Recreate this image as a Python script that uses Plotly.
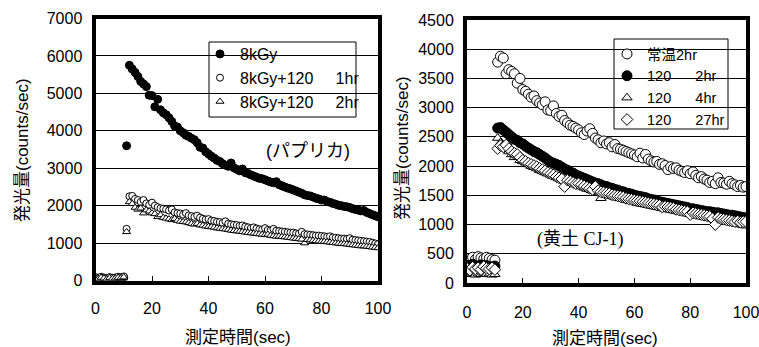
import plotly.graph_objects as go

# ---------------- data ----------------
t_sec = list(range(0, 101))

# left panel (パプリカ)
y_8kGy = [40, 60, 30, 50, 45, 70, 55, 40, 65, 50, 80,
          3600, 5750, 5650, 5560, 5450, 5320, 5250, 5180, 4950, 4940,
          4640, 4840, 4560, 4480, 4430, 4350, 4250, 4130, 4100, 4000,
          3950, 3880, 3850, 3800, 3760, 3680, 3560, 3540, 3440, 3380,
          3320, 3270, 3210, 3180, 3120, 3080, 3050, 3140, 3010, 2970,
          2930, 2980, 2880, 2860, 2820, 2790, 2760, 2730, 2720, 2690,
          2660, 2630, 2610, 2640, 2560, 2530, 2500, 2470, 2450, 2420,
          2390, 2360, 2330, 2290, 2270, 2260, 2230, 2200, 2180, 2150,
          2150, 2110, 2090, 2060, 2040, 2010, 2000, 1980, 1970, 1950,
          1920, 1900, 1880, 1860, 1870, 1820, 1790, 1760, 1730, 1700]
y_8kGy_1hr = [90, 70, 100, 80, 60, 90, 70, 80, 100, 90, 110,
              1380, 2250, 2260, 2180, 2150, 2100, 2150, 2060, 2020, 2080,
              2000, 1960, 1930, 1920, 1900, 1870, 1900, 1820, 1800, 1790,
              1760, 1800, 1740, 1720, 1700, 1730, 1680, 1650, 1630, 1640,
              1600, 1590, 1570, 1560, 1540, 1580, 1520, 1500, 1490, 1480,
              1460, 1470, 1440, 1420, 1400, 1420, 1390, 1370, 1360, 1400,
              1350, 1340, 1380, 1330, 1320, 1310, 1300, 1290, 1280, 1280,
              1260, 1250, 1300, 1240, 1230, 1220, 1210, 1200, 1200, 1190,
              1180, 1170, 1180, 1150, 1140, 1130, 1120, 1120, 1110, 1130,
              1090, 1080, 1070, 1060, 1050, 1040, 1030, 1010, 990, 970]
y_8kGy_2hr = [70, 50, 80, 60, 40, 70, 50, 60, 80, 70, 90,
              1300, 2100, 2050, 1950, 1900, 1930, 1800, 1880, 1850, 1800,
              1780, 1700, 1750, 1680, 1660, 1640, 1620, 1650, 1600, 1580,
              1570, 1560, 1540, 1520, 1500, 1520, 1480, 1470, 1450, 1440,
              1430, 1420, 1400, 1390, 1380, 1370, 1360, 1340, 1330, 1320,
              1310, 1300, 1290, 1280, 1270, 1260, 1250, 1240, 1230, 1220,
              1230, 1200, 1190, 1180, 1180, 1170, 1160, 1150, 1140, 1130,
              1120, 1110, 1100, 1000, 1090, 1080, 1070, 1060, 1050, 1040,
              1040, 1030, 1020, 1010, 1000, 990, 980, 980, 970, 960,
              950, 940, 930, 920, 920, 910, 900, 890, 880, 870]

# right panel (黄土 CJ-1)
y_room_2hr = [380, 420, 440, 400, 450, 430, 410, 440, 420, 400, 390,
              3780, 3880, 3850, 3580, 3650, 3620, 3580, 3420, 3500, 3310,
              3280, 3230, 3180, 3200, 3120, 3080, 3050, 3100, 2960, 2950,
              3030, 2900, 2850, 2870, 2780, 2740, 2700, 2680, 2650, 2620,
              2570, 2540, 2600, 2640, 2560, 2480, 2450, 2400, 2430, 2380,
              2400, 2330, 2370, 2300, 2290, 2270, 2250, 2230, 2210, 2190,
              2160, 2220, 2140, 2200, 2120, 2090, 2070, 2080, 2030, 2040,
              2010, 1940, 1990, 1960, 1970, 1930, 1910, 1890, 1920, 1870,
              1900, 1840, 1800, 1820, 1780, 1760, 1720, 1740, 1700, 1800,
              1720, 1710, 1690, 1740, 1700, 1680, 1650, 1670, 1640, 1650]
y_120_2hr = [300, 270, 320, 280, 290, 310, 260, 300, 280, 270, 290,
             2650, 2660, 2620, 2580, 2540, 2500, 2460, 2440, 2400, 2380,
             2340, 2310, 2280, 2250, 2230, 2200, 2170, 2140, 2100, 2070,
             2050, 2030, 2010, 1980, 1950, 1930, 1900, 1880, 1850, 1830,
             1810, 1790, 1770, 1750, 1730, 1710, 1700, 1680, 1660, 1650,
             1630, 1620, 1600, 1590, 1570, 1560, 1540, 1530, 1520, 1500,
             1490, 1480, 1470, 1460, 1440, 1430, 1420, 1410, 1390, 1380,
             1370, 1360, 1350, 1340, 1330, 1320, 1310, 1300, 1290, 1270,
             1270, 1260, 1250, 1240, 1230, 1220, 1220, 1210, 1200, 1200,
             1190, 1180, 1170, 1160, 1160, 1150, 1140, 1130, 1120, 1110]
y_120_4hr = [160, 150, 170, 140, 160, 150, 170, 150, 160, 140, 150,
             2480, 2400, 2360, 2300, 2250, 2200, 2150, 2180, 2100, 2080,
             2060, 2030, 2000, 1980, 1960, 1930, 1910, 1890, 1870, 1850,
             1830, 1810, 1790, 1770, 1750, 1730, 1720, 1700, 1690, 1670,
             1650, 1630, 1610, 1600, 1580, 1570, 1550, 1450, 1530, 1510,
             1500, 1490, 1470, 1460, 1450, 1440, 1420, 1410, 1400, 1390,
             1370, 1360, 1350, 1340, 1330, 1320, 1310, 1300, 1290, 1280,
             1270, 1260, 1250, 1240, 1230, 1220, 1210, 1200, 1190, 1180,
             1170, 1160, 1150, 1140, 1130, 1120, 1110, 1100, 1090, 1080,
             1070, 1060, 1050, 1040, 1030, 1020, 1010, 1000, 990, 980]
y_120_27hr = [250, 220, 270, 240, 260, 230, 280, 250, 240, 260, 230,
              2300, 2350, 2330, 2360, 2300, 2250, 2220, 2200, 2150, 2100,
              2080, 2050, 2030, 2010, 1990, 1960, 1940, 1920, 1890, 1870,
              1850, 1820, 1800, 1780, 1650, 1760, 1740, 1720, 1700, 1700,
              1680, 1660, 1640, 1620, 1600, 1650, 1580, 1560, 1550, 1540,
              1530, 1510, 1500, 1490, 1480, 1470, 1450, 1440, 1430, 1420,
              1410, 1400, 1390, 1380, 1370, 1360, 1350, 1340, 1330, 1300,
              1310, 1300, 1290, 1280, 1260, 1250, 1240, 1230, 1220, 1170,
              1200, 1190, 1180, 1170, 1160, 1150, 1140, 1100, 1000, 1120,
              1100, 1090, 1080, 1070, 1060, 1050, 1060, 1040, 1050, 1050]

x_ticks = [0, 20, 40, 60, 80, 100]

# ---------------- figure ----------------
FONT = "Liberation Sans, Arial, Noto Sans CJK JP, sans-serif"
SERIF = "Liberation Serif, Times New Roman, Noto Sans CJK JP, serif"
W, H = 759, 347
nb = "\u00a0"

fig = go.Figure()

left_series = [
    ("8kGy", y_8kGy, "circle", "black", 8),
    ("8kGy+120" + nb * 5 + "1hr", y_8kGy_1hr, "circle", "white", 7),
    ("8kGy+120" + nb * 5 + "2hr", y_8kGy_2hr, "triangle-up", "white", 7),
]
for name, ys, sym, fill, sz in left_series:
    fig.add_trace(go.Scatter(
        x=t_sec, y=ys, mode="markers", name=name, xaxis="x", yaxis="y",
        legend="legend",
        marker=dict(symbol=sym, size=sz, color=fill,
                    line=dict(color="black", width=1)),
    ))

right_series = [
    ("常温2hr", y_room_2hr, "circle", "white", 10),
    ("120" + nb * 6 + "2hr", y_120_2hr, "circle", "black", 10),
    ("120" + nb * 6 + "4hr", y_120_4hr, "triangle-up", "white", 9),
    ("120" + nb * 6 + "27hr", y_120_27hr, "diamond", "white", 9),
]
for name, ys, sym, fill, sz in right_series:
    fig.add_trace(go.Scatter(
        x=t_sec, y=ys, mode="markers", name=name, xaxis="x2", yaxis="y2",
        legend="legend2",
        marker=dict(symbol=sym, size=sz, color=fill,
                    line=dict(color="black", width=1)),
    ))

def px(x):
    return x / W

def py(y):
    return (H - y) / H

axis_common = dict(
    showline=True, linecolor="black", linewidth=4, mirror=True,
    tickfont=dict(family=FONT, size=16, color="black"),
    zeroline=False, automargin=False, ticklabeloverflow="allow",
)

def ann(text, x, y, size, family=FONT, angle=0):
    return dict(text=text, x=px(x), y=py(y), xref="paper", yref="paper",
                xanchor="center", yanchor="middle", showarrow=False,
                textangle=angle, font=dict(family=family, size=size, color="black"))

fig.update_layout(
    width=W, height=H,
    margin=dict(l=0, r=0, t=0, b=0, pad=0, autoexpand=False),
    paper_bgcolor="white", plot_bgcolor="white",
    font=dict(family=FONT, color="black"),
    xaxis=dict(domain=[px(95.5), px(378)], range=[0, 100], tickvals=x_ticks,
               ticks="inside", ticklen=5, tickwidth=1, tickcolor="black",
               showgrid=False, anchor="y", ticklabelstandoff=10, **axis_common),
    yaxis=dict(domain=[py(280.5), py(18.5)], range=[0, 7000], dtick=1000,
               showgrid=True, gridcolor="black", gridwidth=1, ticks="",
               anchor="x", ticklabelstandoff=6, **axis_common),
    xaxis2=dict(domain=[px(467), px(746)], range=[0, 100], tickvals=x_ticks,
                ticks="inside", ticklen=5, tickwidth=1, tickcolor="black",
                showgrid=False, anchor="y2", ticklabelstandoff=12, **axis_common),
    yaxis2=dict(domain=[py(283), py(20)], range=[0, 4500], dtick=500,
                showgrid=True, gridcolor="black", gridwidth=1, ticks="",
                anchor="x2", ticklabelstandoff=6, **axis_common),
    legend=dict(x=px(200), y=py(37), xanchor="left", yanchor="top",
                bgcolor="rgba(0,0,0,0)", borderwidth=0,
                font=dict(family=FONT, size=16, color="black")),
    legend2=dict(x=px(607), y=py(38), xanchor="left", yanchor="top",
                 bgcolor="rgba(0,0,0,0)", borderwidth=0,
                 font=dict(family=FONT, size=14.5, color="black")),
    shapes=[
        dict(type="rect", xref="paper", yref="paper",
             x0=px(209), x1=px(356), y0=py(117), y1=py(42),
             line=dict(color="black", width=1), fillcolor="white", layer="below"),
        dict(type="rect", xref="paper", yref="paper",
             x0=px(614), x1=px(728), y0=py(129), y1=py(39),
             line=dict(color="black", width=1), fillcolor="white", layer="below"),
    ],
    annotations=[
        ann("(パプリカ)", 308, 151, 18),
        ann("(黄土 CJ-1)", 580, 240, 18, family=SERIF),
        ann("発光量(counts/sec)", 22, 150, 17, angle=-90),
        ann("発光量(counts/sec)", 402, 148, 17, angle=-90),
        ann("測定時間(sec)", 238, 337, 17),
        ann("測定時間(sec)", 605, 338, 17),
    ],
)

fig.write_html(
    "out.html",
    config={"displayModeBar": False},
    post_script="document.body.style.margin='0';document.body.style.overflow='hidden';",
)
